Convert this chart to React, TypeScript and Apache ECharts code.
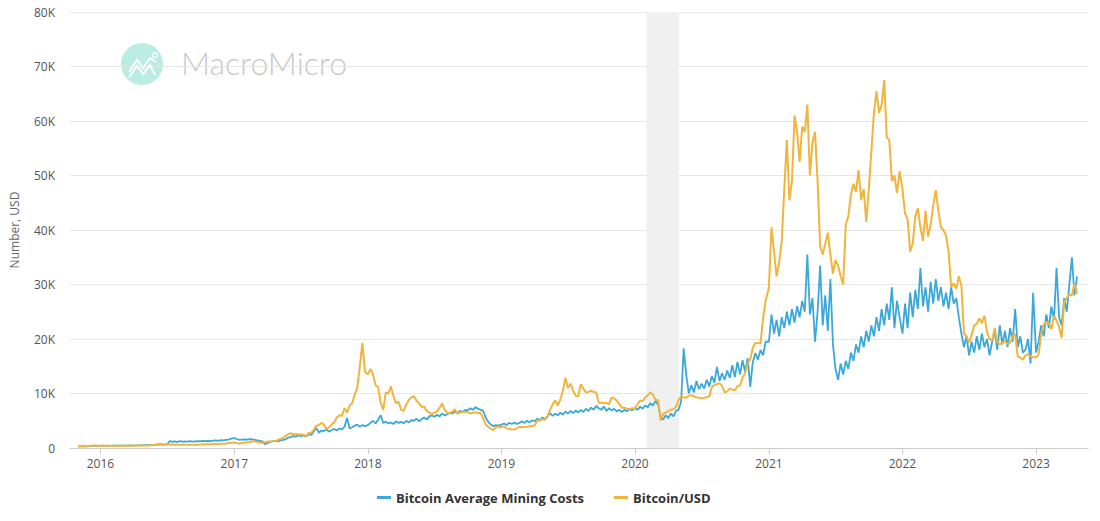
import React, { useEffect, useRef } from "react";
import * as echarts from "echarts";

// Weekly samples, each array starts at its given date and steps by 7 days
const btc2015 = [320, 370, 335, 325, 365, 395, 440, 445, 430];
const btc2016 = [430, 450, 390, 400, 380, 375, 400, 420, 435, 415, 415, 420, 420, 425, 430, 450, 460, 455, 445, 450, 530, 570, 580, 720, 680, 660, 670, 660, 655, 600, 590, 575, 580, 610, 605, 610, 605, 600, 610, 620, 640, 650, 700, 700, 710, 740, 750, 770, 780, 800, 900, 960];
const btc2017 = [1000, 900, 830, 920, 1010, 1000, 1050, 1180, 1270, 1100, 1000, 960, 1080, 1170, 1180, 1230, 1300, 1450, 1700, 1800, 2200, 2500, 2700, 2500, 2550, 2500, 2500, 2450, 2200, 2750, 2800, 3300, 4100, 4200, 4600, 4300, 3500, 3800, 4300, 4700, 5600, 6000, 5900, 7300, 6500, 7800, 8200, 9800, 11000, 15000, 19300, 14000];
const btc2018 = [13500, 14500, 13500, 11500, 11200, 8300, 7000, 10200, 10000, 11300, 9500, 8200, 8500, 7000, 6800, 8000, 8800, 9300, 9500, 8700, 8200, 7500, 7600, 6800, 6500, 6200, 6500, 6700, 7400, 8200, 7000, 6400, 6400, 6700, 7100, 6300, 6500, 6700, 6600, 6600, 6300, 6500, 6500, 6400, 6400, 5500, 4300, 3900, 3500, 3300, 3900, 3800];
const btc2019 = [3800, 4000, 3600, 3550, 3450, 3400, 3600, 3900, 3800, 3850, 3900, 4000, 4050, 4150, 5100, 5050, 5300, 5200, 5800, 7000, 8000, 8700, 7800, 8900, 10500, 12900, 11000, 11800, 10500, 9600, 9500, 11700, 10900, 10200, 10300, 10500, 10300, 10200, 8300, 8300, 8200, 8300, 8000, 9300, 9100, 8700, 8100, 7400, 7400, 7200, 7100, 7300];
const btc2020 = [7200, 8100, 8700, 8600, 9300, 9700, 10200, 9800, 8800, 8800, 5000, 6300, 6500, 6800, 7000, 7100, 7500, 8800, 9500, 9300, 9200, 9600, 9700, 9500, 9300, 9200, 9100, 9200, 9300, 9500, 11100, 11600, 11700, 11900, 11400, 10200, 10400, 10900, 10700, 10600, 11300, 11500, 12900, 13700, 15500, 16300, 18400, 19300, 19200, 19200, 23800, 27000];
const btc2021 = [29400, 40500, 36000, 31500, 34000, 38000, 47500, 56500, 45500, 49000, 61000, 58000, 52500, 59000, 58000, 63000, 50000, 56000, 58000, 49000, 37000, 35500, 37500, 39500, 35500, 32000, 34500, 33500, 31500, 30000, 41000, 42500, 46500, 48500, 47000, 51000, 45500, 47500, 41500, 47500, 54500, 61500, 65500, 61500, 63000, 67500, 57000, 56500, 49000, 50000, 46800, 50800];
const btc2022 = [47500, 43000, 42000, 36000, 37500, 42500, 44000, 40500, 38000, 43500, 38800, 41000, 44500, 47300, 43500, 40500, 40000, 39000, 36000, 29500, 30200, 29200, 31500, 29800, 21000, 20500, 19300, 20800, 22500, 22800, 23800, 22900, 24300, 21200, 20000, 19800, 22000, 19500, 19000, 19300, 19600, 19100, 19300, 20500, 20900, 16800, 16600, 16200, 17000, 17200, 16800, 16700];
const btc2023 = [16600, 17200, 20900, 22700, 23100, 22900, 21800, 24300, 23400, 22200, 20200, 26800, 27500, 28200, 28000, 30300, 28300];

const cost2015 = [300, 330, 310, 320, 340, 360, 380, 400, 390];
const cost2016 = [400, 420, 390, 410, 400, 420, 430, 410, 440, 450, 430, 460, 470, 450, 480, 500, 490, 520, 510, 540, 560, 550, 600, 620, 640, 610, 650, 1250, 1150, 1200, 1100, 1250, 1150, 1200, 1180, 1250, 1150, 1220, 1280, 1200, 1300, 1250, 1320, 1280, 1350, 1400, 1320, 1450, 1400, 1500, 1550, 1700];
const cost2017 = [1800, 1650, 1500, 1550, 1600, 1550, 1650, 1600, 1500, 1400, 1300, 1200, 700, 900, 1100, 1250, 1300, 1200, 1400, 1500, 1600, 1900, 2000, 2200, 2100, 2300, 2200, 2300, 2100, 2500, 2400, 3000, 3700, 2800, 3200, 3100, 3400, 3000, 3300, 3500, 3200, 3600, 3400, 3900, 5500, 3600, 3800, 4100, 4300, 3900, 4200, 4000];
const cost2018 = [4200, 4600, 5000, 4500, 5200, 6000, 4600, 4800, 4500, 4700, 4400, 4900, 4600, 4800, 4500, 5000, 4700, 5100, 5000, 5400, 4900, 5300, 5600, 5200, 5800, 6000, 5700, 6100, 5800, 6300, 6000, 6200, 6500, 6300, 6700, 6400, 6800, 6600, 7000, 6900, 7300, 7000, 7500, 7200, 7000, 6800, 5600, 4800, 4300, 4000, 4200, 4100];
const cost2019 = [4300, 4500, 4200, 4600, 4400, 4700, 4400, 4600, 4900, 4600, 5000, 4700, 5100, 4900, 5400, 5100, 5600, 5300, 5800, 6400, 5900, 6300, 6000, 6500, 6100, 6700, 6300, 6800, 6400, 6900, 6500, 7000, 6600, 7200, 6800, 7400, 7000, 7700, 7300, 7000, 7600, 6800, 7300, 6900, 7200, 6700, 7000, 6600, 7000, 6700, 7200, 6900];
const cost2020 = [7300, 7000, 7600, 7200, 7800, 7500, 8200, 7800, 8600, 8000, 5800, 5200, 6000, 5500, 6300, 5800, 6800, 7000, 8500, 18300, 13500, 10000, 11500, 10200, 12300, 10800, 11800, 10900, 12500, 11300, 13200, 12000, 14900, 12300, 13700, 12500, 14200, 12900, 15200, 13000, 15800, 13500, 16100, 14000, 16500, 11200, 15800, 17400, 16200, 18000, 17000, 19500];
const cost2021 = [19500, 24500, 21000, 23500, 20500, 24000, 22000, 25000, 22500, 25500, 23000, 26000, 24000, 27000, 25000, 35500, 24500, 27500, 19500, 25000, 33500, 22500, 28000, 21500, 31000, 19000, 14500, 12500, 15500, 13500, 16000, 14500, 17500, 16000, 19000, 17500, 20500, 18500, 21500, 19500, 22500, 20500, 24000, 21500, 25500, 22500, 26500, 23500, 29500, 22000, 27000, 24000];
const cost2022 = [21000, 26500, 22000, 28500, 24000, 29000, 25500, 33000, 26000, 29500, 25000, 30500, 26500, 31000, 27000, 29500, 26000, 28500, 25500, 29500, 26500, 27500, 24000, 21000, 18500, 20500, 17000, 19500, 17500, 20500, 18000, 21000, 18500, 20000, 17000, 19500, 21500, 18000, 22500, 19000, 21500, 18500, 22000, 19500, 25500, 18500, 20500, 17500, 18000, 20000, 15500, 28500];
const cost2023 = [17500, 19500, 22500, 20500, 24500, 22000, 26000, 23500, 33000, 24000, 22500, 27500, 25000, 30000, 35000, 28000, 31500];

const yTicks = ["0", "10K", "20K", "30K", "40K", "50K", "60K", "70K", "80K"];
const seriesNames = ["Bitcoin Average Mining Costs", "Bitcoin/USD"];
const recession = ["2020-02-01", "2020-04-30"];

const DAY = 86400000;
function weekly(y: number, m: number, d: number, vals: number[]) {
  const start = Date.UTC(y, m, d);
  return vals.map((v, i) => [start + i * 7 * DAY, v]);
}

const btcData = [
  ...weekly(2015, 10, 1, btc2015),
  ...weekly(2016, 0, 1, btc2016),
  ...weekly(2017, 0, 1, btc2017),
  ...weekly(2018, 0, 1, btc2018),
  ...weekly(2019, 0, 1, btc2019),
  ...weekly(2020, 0, 1, btc2020),
  ...weekly(2021, 0, 1, btc2021),
  ...weekly(2022, 0, 1, btc2022),
  ...weekly(2023, 0, 1, btc2023),
];
const costData = [
  ...weekly(2015, 10, 1, cost2015),
  ...weekly(2016, 0, 1, cost2016),
  ...weekly(2017, 0, 1, cost2017),
  ...weekly(2018, 0, 1, cost2018),
  ...weekly(2019, 0, 1, cost2019),
  ...weekly(2020, 0, 1, cost2020),
  ...weekly(2021, 0, 1, cost2021),
  ...weekly(2022, 0, 1, cost2022),
  ...weekly(2023, 0, 1, cost2023),
];

const FONT = "'Open Sans', 'Noto Sans', sans-serif";

export default function App() {
  const ref = useRef<HTMLDivElement>(null);
  useEffect(() => {
    document.body.style.margin = "0";
    document.body.style.overflow = "hidden";
    if (!ref.current) return;
    const chart = echarts.init(ref.current, null, { renderer: "svg" });
    chart.setOption({
      animation: false,
      useUTC: true,
      backgroundColor: "#ffffff",
      textStyle: { fontFamily: FONT },
      grid: { left: 68, right: 12, top: 12, bottom: 73 },
      graphic: [
        {
          type: "circle",
          shape: { cx: 142, cy: 64, r: 21 },
          style: { fill: "#b9ede3" },
          z: 0,
        },
        {
          type: "polyline",
          shape: { points: [[129, 72], [137, 60], [143, 68], [150, 58], [156, 62]] },
          style: { stroke: "#ffffff", lineWidth: 2, fill: null },
          z: 1,
        },
        {
          type: "polyline",
          shape: { points: [[129, 77], [137, 66], [143, 74], [150, 65], [155, 75]] },
          style: { stroke: "#ffffff", lineWidth: 2, fill: null },
          z: 1,
        },
        {
          type: "circle",
          shape: { cx: 155, cy: 55, r: 2.5 },
          style: { fill: "none", stroke: "#ffffff", lineWidth: 1.5 },
          z: 1,
        },
        {
          type: "text",
          x: 181,
          y: 46,
          style: {
            text: "MacroMicro",
            fill: "#c8c8c8",
            font: "300 32px 'Lato', 'Open Sans', sans-serif",
          },
          z: 0,
        },
      ],
      legend: {
        bottom: 12,
        left: 372,
        itemGap: 30,
        itemWidth: 14,
        itemHeight: 3,
        icon: "rect",
        data: seriesNames,
        textStyle: {
          fontWeight: "bold",
          fontSize: 13,
          color: "#333",
          fontFamily: FONT,
        },
      },
      xAxis: {
        type: "time",
        min: Date.UTC(2015, 9, 10),
        max: Date.UTC(2023, 4, 23),
        minInterval: 365 * DAY,
        maxInterval: 366 * DAY,
        splitLine: { show: false },
        axisLine: { lineStyle: { color: "#cccccc" } },
        axisTick: { show: true, length: 6, lineStyle: { color: "#cccccc" } },
        axisLabel: {
          color: "#555",
          fontSize: 12,
          margin: 9,
          showMinLabel: false,
          showMaxLabel: false,
          formatter: (v: number) => String(new Date(v).getUTCFullYear()),
        },
      },
      yAxis: {
        type: "value",
        min: 0,
        max: 80000,
        interval: 10000,
        name: "Number, USD",
        nameLocation: "middle",
        nameGap: 50,
        nameTextStyle: { color: "#666", fontSize: 12 },
        axisLine: { show: false },
        axisTick: { show: false },
        splitLine: { lineStyle: { color: "#e6e6e6" } },
        axisLabel: {
          color: "#555",
          fontSize: 12,
          margin: 15,
          formatter: (v: number) => yTicks[Math.round(v / 10000)],
        },
      },
      series: [
        {
          name: seriesNames[0],
          type: "line",
          data: costData,
          showSymbol: false,
          color: "#3aa8d8",
          lineStyle: { width: 1.8, color: "#3aa8d8" },
          z: 3,
          markArea: {
            silent: true,
            itemStyle: { color: "#f0f0f0" },
            data: [[{ xAxis: recession[0] }, { xAxis: recession[1] }]],
          },
        },
        {
          name: seriesNames[1],
          type: "line",
          data: btcData,
          showSymbol: false,
          color: "#f1b43c",
          lineStyle: { width: 2, color: "#f1b43c" },
          z: 4,
        },
      ],
    });
    return () => chart.dispose();
  }, []);
  return <div ref={ref} style={{ width: 1100, height: 521 }} />;
}
